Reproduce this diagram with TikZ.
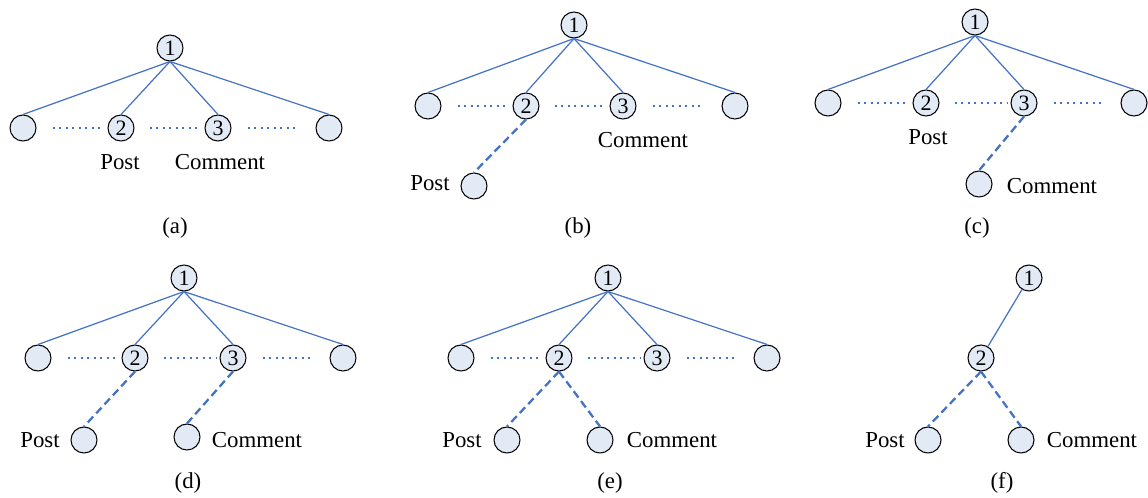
\documentclass[tikz,border=0pt]{standalone}
\usepackage{fontspec}
\setmainfont{Liberation Serif}
\usetikzlibrary{positioning}

\definecolor{nodefill}{RGB}{226,234,246}
\definecolor{linkblue}{RGB}{68,114,196}

\begin{document}
\begin{tikzpicture}[
    x=0.02cm, y=-0.02cm,
    treenode/.style={circle, draw=black, line width=0.6pt, fill=nodefill, minimum size=0.52cm, inner sep=0pt, font=\fontsize{12.5}{14}\selectfont},
    labelnode/.style={font=\fontsize{13}{15}\selectfont, inner sep=1pt},
    capnode/.style={font=\fontsize{13}{15}\selectfont, inner sep=1pt},
    treeline/.style={linkblue, line width=0.7pt},
    dotline/.style={linkblue, line width=1.2pt, dash pattern=on 1.2pt off 2.5pt},
    replyline/.style={linkblue, line width=1.3pt, dash pattern=on 4.5pt off 2.5pt}
]
\useasboundingbox (0,0) rectangle (1148,497);

% (a) post and comment are siblings
\node[treenode] (a1) at (170,48) {1};
\node[treenode] (al) at (23,128) {};
\node[treenode] (a2) at (121,128) {2};
\node[treenode] (a3) at (218,128) {3};
\node[treenode] (ar) at (329,128) {};
\foreach \c in {l,2,3,r} {
    \draw[treeline] (a1.south) -- (a\c.north);
}
\draw[dotline, shorten <=0.32cm, shorten >=2pt] (al) -- (a2);
\draw[dotline, shorten <=0.3cm, shorten >=2pt] (a2) -- (a3);
\draw[dotline, shorten <=0.32cm, shorten >=0.36cm] (a3) -- (ar);
\node[labelnode] (apost) at (120,162) {Post};
\node[labelnode] (acomm) at (220,162) {Comment};
\node[capnode] (acap) at (175,228) {(a)};

% (b) post hangs below 2
\node[treenode] (b1) at (574,25) {1};
\node[treenode] (bl) at (428,106) {};
\node[treenode] (b2) at (526,106) {2};
\node[treenode] (b3) at (623,106) {3};
\node[treenode] (br) at (735,106) {};
\node[treenode] (bp) at (474,186) {};
\foreach \c in {l,2,3,r} {
    \draw[treeline] (b1.south) -- (b\c.north);
}
\draw[dotline, shorten <=0.32cm, shorten >=2pt] (bl) -- (b2);
\draw[dotline, shorten <=0.3cm, shorten >=2pt] (b2) -- (b3);
\draw[dotline, shorten <=0.32cm, shorten >=0.36cm] (b3) -- (br);
\draw[replyline] (b2.south) -- (bp.north);
\node[labelnode] (bpost) at (430,183) {Post};
\node[labelnode] (bcomm) at (643,140) {Comment};
\node[capnode] (bcap) at (578,228) {(b)};

% (c) comment hangs below 3
\node[treenode] (c1) at (975,22) {1};
\node[treenode] (cl) at (828,103) {};
\node[treenode] (c2) at (926,103) {2};
\node[treenode] (c3) at (1024,103) {3};
\node[treenode] (cr) at (1134,103) {};
\node[treenode] (cc) at (979,184) {};
\foreach \c in {l,2,3,r} {
    \draw[treeline] (c1.south) -- (c\c.north);
}
\draw[dotline, shorten <=0.32cm, shorten >=2pt] (cl) -- (c2);
\draw[dotline, shorten <=0.3cm, shorten >=2pt] (c2) -- (c3);
\draw[dotline, shorten <=0.32cm, shorten >=0.36cm] (c3) -- (cr);
\draw[replyline] (c3.south) -- (cc.north);
\node[labelnode] (cpost) at (928,137) {Post};
\node[labelnode] (ccomm) at (1052,186) {Comment};
\node[capnode] (ccap) at (977,228) {(c)};

% (d) both hang below
\node[treenode] (d1) at (184,278) {1};
\node[treenode] (dl) at (38,358) {};
\node[treenode] (d2) at (135,358) {2};
\node[treenode] (d3) at (233,358) {3};
\node[treenode] (dr) at (343,358) {};
\node[treenode] (dp) at (84,440) {};
\node[treenode] (dc) at (187,437) {};
\foreach \c in {l,2,3,r} {
    \draw[treeline] (d1.south) -- (d\c.north);
}
\draw[dotline, shorten <=0.32cm, shorten >=2pt] (dl) -- (d2);
\draw[dotline, shorten <=0.3cm, shorten >=2pt] (d2) -- (d3);
\draw[dotline, shorten <=0.32cm, shorten >=0.36cm] (d3) -- (dr);
\draw[replyline] (d2.south) -- (dp.north);
\draw[replyline] (d3.south) -- (dc.north);
\node[labelnode] (dpost) at (40,440) {Post};
\node[labelnode] (dcomm) at (257,440) {Comment};
\node[capnode] (dcap) at (188,483) {(d)};

% (e) both hang below 2
\node[treenode] (e1) at (608,278) {1};
\node[treenode] (el) at (461,358) {};
\node[treenode] (e2) at (559,358) {2};
\node[treenode] (e3) at (657,358) {3};
\node[treenode] (er) at (767,358) {};
\node[treenode] (ep) at (507,440) {};
\node[treenode] (ec) at (600,440) {};
\foreach \c in {l,2,3,r} {
    \draw[treeline] (e1.south) -- (e\c.north);
}
\draw[dotline, shorten <=0.32cm, shorten >=2pt] (el) -- (e2);
\draw[dotline, shorten <=0.3cm, shorten >=2pt] (e2) -- (e3);
\draw[dotline, shorten <=0.32cm, shorten >=0.36cm] (e3) -- (er);
\draw[replyline] (e2.south) -- (ep.north);
\draw[replyline] (e2.south) -- (ec.north);
\node[labelnode] (epost) at (462,440) {Post};
\node[labelnode] (ecomm) at (672,440) {Comment};
\node[capnode] (ecap) at (610,483) {(e)};

% (f) single chain
\node[treenode] (f1) at (1029,278) {1};
\node[treenode] (f2) at (981,358) {2};
\node[treenode] (fp) at (928,440) {};
\node[treenode] (fc) at (1021,440) {};
\draw[treeline] (f1) -- (f2);
\draw[replyline] (f2.south) -- (fp.north);
\draw[replyline] (f2.south) -- (fc.north);
\node[labelnode] (fpost) at (885,440) {Post};
\node[labelnode] (fcomm) at (1092,440) {Comment};
\node[capnode] (fcap) at (1002,483) {(f)};

\end{tikzpicture}
\end{document}
